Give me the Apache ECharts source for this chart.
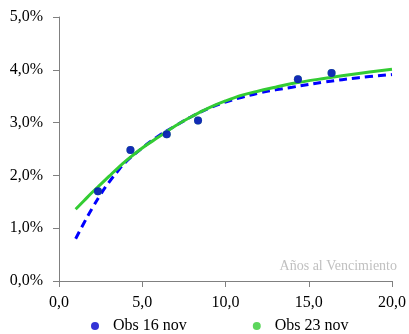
<!DOCTYPE html>
<html>
<head>
<meta charset="utf-8">
<script src="https://cdn.jsdelivr.net/npm/echarts@6/dist/echarts.min.js"></script>
<style>html,body{margin:0;padding:0;background:#fff}#c{width:409px;height:334px}</style>
</head>
<body>
<div id="c"></div>
<script>
var obsX = [2.34, 4.29, 6.47, 8.35, 14.35, 16.37];
var obs16 = [1.70, 2.48, 2.78, 3.04, 3.82, 3.94];
var obs23 = [1.70, 2.48, 2.78, 3.04, 3.82, 3.94];
var curveX = [1, 1.5, 2, 2.5, 3, 3.5, 4, 5, 6, 7, 8, 9, 10, 11, 12, 13, 14, 16, 18, 20];
var fit16 = [0.80, 1.10, 1.38, 1.64, 1.87, 2.07, 2.25, 2.52, 2.75, 2.94, 3.12, 3.27, 3.39, 3.48, 3.56, 3.62, 3.67, 3.77, 3.85, 3.91];
var fit23 = [1.36, 1.52, 1.68, 1.83, 1.98, 2.13, 2.27, 2.52, 2.73, 2.94, 3.12, 3.28, 3.41, 3.52, 3.60, 3.67, 3.74, 3.84, 3.93, 4.01];
var xTicks = [0, 5, 10, 15, 20];
var yTicks = [0, 1, 2, 3, 4, 5];
var xTitle = 'Años al Vencimiento';

function pairs(xs, ys) { return xs.map(function (x, i) { return [x, ys[i]]; }); }
var fmt = function (v) { return v.toFixed(1).replace('.', ','); };

var chart = echarts.init(document.getElementById('c'));
chart.setOption({
  animation: false,
  backgroundColor: '#fff',
  textStyle: { fontFamily: 'Liberation Serif' },
  grid: { left: 59, right: 16, top: 17, bottom: 53 },
  legend: {
    top: 318, left: 91, padding: 0, itemGap: 66, itemWidth: 8, itemHeight: 8,
    data: [{ name: 'Obs 16 nov', icon: 'circle' }, { name: 'Obs 23 nov', icon: 'circle' }],
    textStyle: { fontFamily: 'Liberation Serif', fontSize: 16, color: '#000', padding: [0, 0, 0, 9] }
  },
  graphic: [{
    type: 'text', right: 12, top: 259,
    style: { text: xTitle, fill: '#c0c0c0', font: '14px "Liberation Serif"' }
  }],
  xAxis: {
    type: 'value', min: xTicks[0], max: xTicks[xTicks.length - 1], interval: 5,
    axisLine: { lineStyle: { color: '#808080' } },
    axisTick: { show: true, length: 6, lineStyle: { color: '#808080' } },
    splitLine: { show: false },
    axisLabel: { color: '#000', fontSize: 16, margin: 14, formatter: fmt, fontFamily: 'Liberation Serif' }
  },
  yAxis: {
    type: 'value', min: yTicks[0], max: yTicks[yTicks.length - 1], interval: 1,
    axisLine: { show: true, lineStyle: { color: '#808080' } },
    axisTick: { show: true, length: 6, lineStyle: { color: '#808080' } },
    splitLine: { show: false },
    axisLabel: { color: '#000', fontSize: 16, margin: 16, formatter: function (v) { return fmt(v) + '%'; }, fontFamily: 'Liberation Serif' }
  },
  series: [
    { name: 'fit16', type: 'line', data: pairs(curveX, fit16), smooth: 0.4, showSymbol: false,
      lineStyle: { color: '#0000ff', width: 3, type: [8, 5] }, z: 3 },
    { name: 'fit23', type: 'line', data: pairs(curveX, fit23), smooth: 0.4, showSymbol: false,
      lineStyle: { color: '#33cc33', width: 3 }, z: 4 },
    { name: 'Obs 23 nov', type: 'scatter', data: pairs(obsX, obs23), symbolSize: 8,
      itemStyle: { color: '#33cc33' }, z: 5 },
    { name: 'Obs 16 nov', type: 'scatter', data: pairs(obsX, obs16), symbolSize: 8,
      itemStyle: { color: '#0000cc' }, z: 6 }
  ]
});
</script>
</body>
</html>
